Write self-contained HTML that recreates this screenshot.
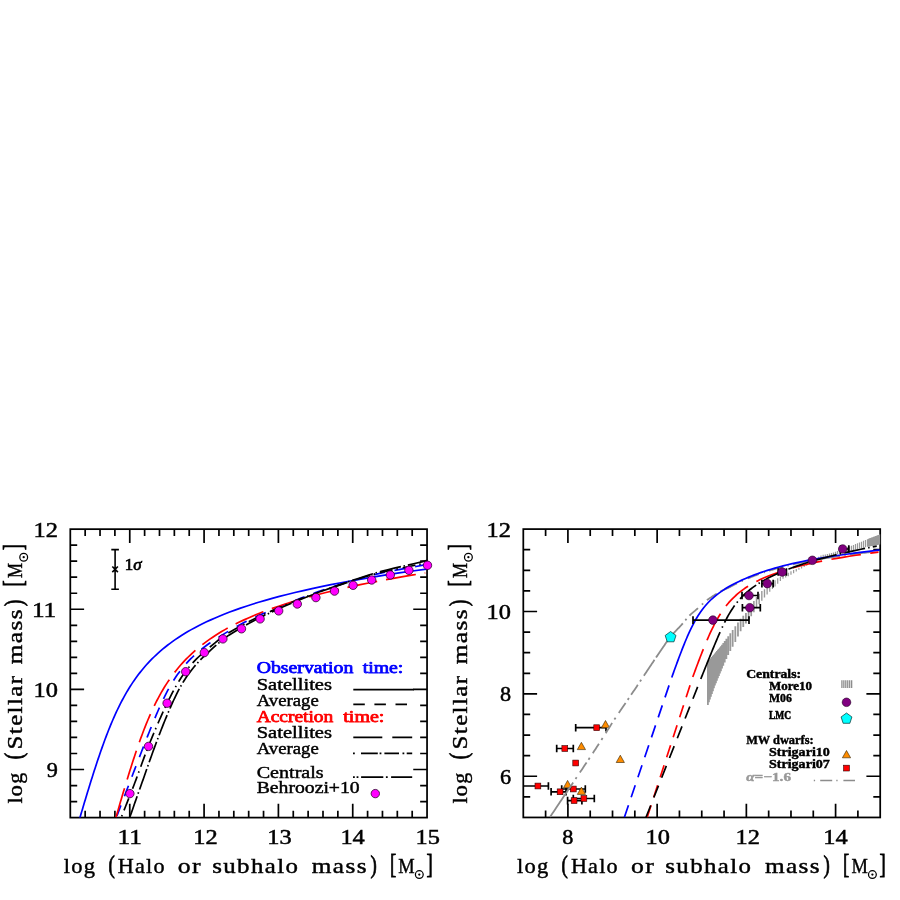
<!DOCTYPE html>
<html><head><meta charset="utf-8"><title>Stellar mass - halo mass relation</title>
<style>html,body{margin:0;padding:0;background:#fff}body{width:900px;height:900px;overflow:hidden}svg{display:block;will-change:transform}text{font-family:"Liberation Serif",serif}</style>
</head><body>
<svg width="900" height="900" viewBox="0 0 900 900">
<rect width="900" height="900" fill="#fff"/>
<g id="left">
<rect x="70.3" y="529.15" width="356.75" height="288.45" fill="none" stroke="#000" stroke-width="1.75"/>
<path d="M129.76 817.6v-13.8 M129.76 529.15v13.8M204.08 817.6v-13.8 M204.08 529.15v13.8M278.4 817.6v-13.8 M278.4 529.15v13.8M352.73 817.6v-13.8 M352.73 529.15v13.8M85.16 817.6v-6.9 M85.16 529.15v6.9M100.03 817.6v-6.9 M100.03 529.15v6.9M114.89 817.6v-6.9 M114.89 529.15v6.9M144.62 817.6v-6.9 M144.62 529.15v6.9M159.49 817.6v-6.9 M159.49 529.15v6.9M174.35 817.6v-6.9 M174.35 529.15v6.9M189.22 817.6v-6.9 M189.22 529.15v6.9M218.95 817.6v-6.9 M218.95 529.15v6.9M233.81 817.6v-6.9 M233.81 529.15v6.9M248.68 817.6v-6.9 M248.68 529.15v6.9M263.54 817.6v-6.9 M263.54 529.15v6.9M293.27 817.6v-6.9 M293.27 529.15v6.9M308.13 817.6v-6.9 M308.13 529.15v6.9M323 817.6v-6.9 M323 529.15v6.9M337.86 817.6v-6.9 M337.86 529.15v6.9M367.59 817.6v-6.9 M367.59 529.15v6.9M382.46 817.6v-6.9 M382.46 529.15v6.9M397.32 817.6v-6.9 M397.32 529.15v6.9M412.19 817.6v-6.9 M412.19 529.15v6.9M70.3 769.52h13.8 M427.05 769.52h-13.8M70.3 689.4h13.8 M427.05 689.4h-13.8M70.3 609.27h13.8 M427.05 609.27h-13.8M70.3 801.58h6.9 M427.05 801.58h-6.9M70.3 785.55h6.9 M427.05 785.55h-6.9M70.3 753.5h6.9 M427.05 753.5h-6.9M70.3 737.47h6.9 M427.05 737.47h-6.9M70.3 721.45h6.9 M427.05 721.45h-6.9M70.3 705.42h6.9 M427.05 705.42h-6.9M70.3 673.37h6.9 M427.05 673.37h-6.9M70.3 657.35h6.9 M427.05 657.35h-6.9M70.3 641.32h6.9 M427.05 641.32h-6.9M70.3 625.3h6.9 M427.05 625.3h-6.9M70.3 593.25h6.9 M427.05 593.25h-6.9M70.3 577.22h6.9 M427.05 577.22h-6.9M70.3 561.2h6.9 M427.05 561.2h-6.9M70.3 545.17h6.9 M427.05 545.17h-6.9" stroke="#000" stroke-width="1.7" fill="none"/>
<clipPath id="cl"><rect x="70.3" y="529.15" width="356.75" height="288.45"/></clipPath>
<g clip-path="url(#cl)" fill="none" stroke-width="1.7">
<path d="M79.49 819.2L80.06 817.25L80.64 815.29L81.21 813.34L81.79 811.38L82.37 809.43L82.95 807.47L83.53 805.52L84.11 803.57L84.7 801.61L85.29 799.66L85.87 797.7L86.47 795.75L87.06 793.79L87.65 791.84L88.25 789.89L88.85 787.93L89.45 785.98L90.06 784.02L90.67 782.07L91.28 780.11L91.89 778.16L92.51 776.21L93.13 774.25L93.76 772.3L94.39 770.34L95.02 768.39L95.65 766.43L96.3 764.48L96.94 762.53L97.59 760.57L98.25 758.62L98.91 756.66L99.58 754.71L100.25 752.75L100.93 750.8L101.62 748.85L102.31 746.89L103.01 744.94L103.72 742.98L104.44 741.03L105.16 739.07L105.89 737.12L106.64 735.17L107.39 733.21L108.16 731.26L108.93 729.3L109.72 727.35L110.51 725.39L111.33 723.44L112.15 721.49L112.99 719.53L113.84 717.58L114.71 715.62L115.6 713.67L116.5 711.71L117.42 709.76L118.36 707.81L119.32 705.85L120.3 703.9L121.3 701.94L122.32 699.99L123.37 698.03L124.45 696.08L125.55 694.13L126.68 692.17L127.84 690.22L129.03 688.26L130.26 686.31L131.52 684.35L132.81 682.4L134.15 680.45L135.52 678.49L136.94 676.54L138.4 674.58L139.9 672.63L141.46 670.67L143.07 668.72L144.73 666.77L146.45 664.81L148.22 662.86L150.06 660.9L151.97 658.95L153.95 656.99L156 655.04L158.12 653.09L160.33 651.13L162.62 649.18L165.01 647.22L167.48 645.27L170.05 643.31L172.73 641.36L175.52 639.41L178.42 637.45L181.44 635.5L184.59 633.54L187.87 631.59L191.29 629.63L194.86 627.68L198.58 625.73L202.46 623.77L206.52 621.82L210.75 619.86L215.18 617.91L219.8 615.95L224.63 614L229.68 612.05L234.96 610.09L240.48 608.14L246.26 606.18L252.3 604.23L258.63 602.27L265.25 600.32L272.18 598.37L279.44 596.41L287.04 594.46L295 592.5L303.35 590.55L312.09 588.59L321.25 586.64L330.85 584.69L340.92 582.73L351.47 580.78L362.54 578.82L374.14 576.87L386.31 574.91L399.08 572.96L412.47 571.01L426.52 569.05" stroke="#0000ff"/>
<path d="M115.66 819.2L116.4 817.25L117.15 815.29L117.9 813.34L118.64 811.38L119.39 809.43L120.13 807.47L120.88 805.52L121.63 803.57L122.37 801.61L123.12 799.66L123.86 797.7L124.61 795.75L125.36 793.79L126.1 791.84L126.85 789.89L127.6 787.93L128.35 785.98L129.09 784.02L129.84 782.07L130.59 780.11L131.34 778.16L132.08 776.21L132.83 774.25L133.58 772.3L134.33 770.34L135.08 768.39L135.83 766.43L136.58 764.48L137.33 762.53L138.09 760.57L138.84 758.62L139.59 756.66L140.35 754.71L141.11 752.75L141.86 750.8L142.62 748.85L143.38 746.89L144.14 744.94L144.91 742.98L145.67 741.03L146.44 739.07L147.21 737.12L147.98 735.17L148.76 733.21L149.54 731.26L150.32 729.3L151.11 727.35L151.9 725.39L152.7 723.44L153.5 721.49L154.31 719.53L155.13 717.58L155.95 715.62L156.79 713.67L157.63 711.71L158.48 709.76L159.35 707.81L160.22 705.85L161.11 703.9L162.02 701.94L162.94 699.99L163.89 698.03L164.85 696.08L165.84 694.13L166.84 692.17L167.88 690.22L168.95 688.26L170.04 686.31L171.18 684.35L172.34 682.4L173.55 680.45L174.81 678.49L176.11 676.54L177.46 674.58L178.87 672.63L180.34 670.67L181.86 668.72L183.46 666.77L185.13 664.81L186.87 662.86L188.7 660.9L190.6 658.95L192.6 656.99L194.69 655.04L196.88 653.09L199.17 651.13L201.56 649.18L204.06 647.22L206.68 645.27L209.41 643.31L212.26 641.36L215.22 639.41L218.31 637.43L221.53 635.42L224.87 633.38L228.34 631.31L231.93 629.22L235.66 627.11L239.51 624.99L243.49 622.87L247.59 620.76L251.83 618.68L256.19 616.63L260.68 614.65L265.3 612.66L270.04 610.62L274.9 608.54L279.9 606.47L285.01 604.42L290.26 602.43L295.62 600.36L301.12 598.15L306.74 595.86L312.5 593.6L318.38 591.47L324.39 589.5L330.54 587.53L336.83 585.54L343.26 583.55L349.83 581.56L356.54 579.57L363.41 577.59L370.44 575.62L377.62 573.81L384.98 572.21L392.5 570.76L400.19 569.38L408.07 568L416.14 566.52L424.41 564.83" stroke="#0000ff" stroke-dasharray="11.3 9.7" stroke-dashoffset="17.5"/>
<path d="M115.46 819.2L116.02 817.25L116.59 815.29L117.15 813.34L117.71 811.38L118.28 809.43L118.84 807.47L119.41 805.52L119.98 803.57L120.55 801.61L121.13 799.66L121.7 797.7L122.28 795.75L122.85 793.79L123.44 791.84L124.02 789.89L124.6 787.93L125.19 785.98L125.78 784.02L126.37 782.07L126.97 780.11L127.57 778.16L128.17 776.21L128.77 774.25L129.38 772.3L129.99 770.34L130.61 768.39L131.23 766.43L131.85 764.48L132.48 762.53L133.11 760.57L133.75 758.62L134.39 756.66L135.04 754.71L135.7 752.75L136.36 750.8L137.03 748.85L137.7 746.89L138.38 744.94L139.07 742.98L139.77 741.03L140.47 739.07L141.19 737.12L141.91 735.17L142.64 733.21L143.38 731.26L144.14 729.3L144.9 727.35L145.68 725.39L146.47 723.44L147.27 721.49L148.09 719.53L148.92 717.58L149.77 715.62L150.63 713.67L151.51 711.71L152.41 709.76L153.33 707.81L154.26 705.85L155.22 703.9L156.2 701.94L157.2 699.99L158.23 698.03L159.28 696.08L160.36 694.13L161.47 692.17L162.6 690.22L163.77 688.26L164.97 686.31L166.2 684.35L167.48 682.4L168.78 680.45L170.13 678.49L171.52 676.54L172.96 674.58L174.44 672.63L175.97 670.67L177.55 668.72L179.18 666.77L180.87 664.81L182.62 662.86L184.43 660.9L186.31 658.95L188.26 656.99L190.27 655.04L192.37 653.09L194.54 651.13L196.8 649.18L199.14 647.22L201.58 645.27L204.11 643.31L206.74 641.36L209.48 639.41L212.34 637.45L215.31 635.5L218.4 633.54L221.62 631.59L224.98 629.63L228.48 627.68L232.13 625.73L235.94 623.77L239.91 621.82L244.06 619.86L248.38 617.91L252.9 615.95L257.61 614L262.54 612.05L267.69 610.09L273.06 608.14L278.68 606.18L284.55 604.23L290.69 602.27L297.11 600.32L303.82 598.37L310.84 596.41L318.18 594.46L325.86 592.5L333.89 590.55L342.29 588.59L351.09 586.64L360.29 584.69L369.92 582.73L380 580.78L390.55 578.82L401.6 576.87L413.16 574.91L425.26 572.96" stroke="#ff0000" stroke-dasharray="30.3 9" stroke-dashoffset="37.3"/>
<path d="M120.53 819.2L121.3 817.25L122.08 815.29L122.85 813.34L123.62 811.38L124.39 809.43L125.16 807.47L125.93 805.52L126.7 803.57L127.47 801.61L128.25 799.66L129.02 797.7L129.79 795.75L130.56 793.79L131.33 791.84L132.11 789.89L132.87 787.93L133.63 785.98L134.37 784.02L135.11 782.07L135.84 780.11L136.56 778.16L137.28 776.21L137.99 774.25L138.71 772.3L139.41 770.34L140.12 768.39L140.83 766.43L141.54 764.48L142.25 762.53L142.97 760.57L143.69 758.62L144.41 756.66L145.14 754.71L145.88 752.75L146.63 750.8L147.39 748.85L148.17 746.89L148.95 744.94L149.74 742.98L150.53 741.03L151.33 739.07L152.14 737.12L152.95 735.17L153.77 733.21L154.59 731.26L155.42 729.3L156.25 727.35L157.09 725.39L157.93 723.44L158.78 721.49L159.64 719.53L160.51 717.58L161.38 715.62L162.26 713.67L163.15 711.71L164.04 709.76L164.95 707.81L165.87 705.85L166.79 703.9L167.74 701.94L168.69 699.99L169.66 698.03L170.65 696.08L171.66 694.13L172.68 692.17L173.73 690.22L174.8 688.26L175.9 686.31L177.03 684.35L178.2 682.4L179.39 680.45L180.64 678.49L181.94 676.54L183.3 674.58L184.72 672.63L186.19 670.67L187.73 668.72L189.34 666.77L191.02 664.81L192.76 662.86L194.59 660.9L196.49 658.95L198.48 656.99L200.57 655.04L202.75 653.09L205.04 651.13L207.45 649.12L209.96 647.02L212.59 644.83L215.33 642.57L218.2 640.28L221.18 637.98L224.29 635.72L227.53 633.55L230.89 631.54L234.37 629.55L237.98 627.53L241.71 625.47L245.56 623.39L249.53 621.3L253.62 619.22L257.82 617.15L262.14 615.12L266.56 613.15L271.1 611.15L275.74 609.11L280.48 607.04L285.33 604.97L290.27 602.9L295.32 600.86L300.47 598.87L305.71 596.92L311.06 594.96L316.5 593L322.04 591.03L327.68 589.07L333.42 587.1L339.27 585.14L345.22 583.17L351.28 581.2L357.46 579.24L363.74 577.28L370.15 575.32L376.68 573.48L383.34 571.83L390.13 570.32L397.05 568.89L404.12 567.49L411.33 566.04L418.69 564.47L426.22 562.69" stroke="#000" stroke-dasharray="13 3.95 1.5 4.9" stroke-dashoffset="13.9"/>
<path d="M129.08 819.2L129.79 817.25L130.49 815.29L131.19 813.34L131.88 811.38L132.56 809.43L133.24 807.47L133.92 805.52L134.59 803.57L135.27 801.61L135.95 799.66L136.63 797.7L137.31 795.75L138 793.79L138.7 791.84L139.4 789.89L140.11 787.93L140.81 785.98L141.51 784.02L142.2 782.07L142.9 780.11L143.59 778.16L144.27 776.21L144.96 774.25L145.65 772.3L146.33 770.34L147.02 768.39L147.7 766.43L148.39 764.48L149.08 762.53L149.77 760.57L150.46 758.62L151.15 756.66L151.85 754.71L152.56 752.75L153.26 750.8L153.98 748.85L154.69 746.89L155.42 744.94L156.15 742.98L156.88 741.03L157.62 739.07L158.36 737.12L159.11 735.17L159.86 733.21L160.62 731.26L161.38 729.3L162.15 727.35L162.92 725.39L163.7 723.44L164.49 721.49L165.28 719.53L166.08 717.58L166.89 715.62L167.71 713.67L168.54 711.71L169.37 709.76L170.22 707.81L171.08 705.85L171.96 703.9L172.85 701.94L173.75 699.99L174.68 698.03L175.62 696.08L176.58 694.13L177.57 692.17L178.58 690.22L179.62 688.26L180.7 686.31L181.82 684.35L182.98 682.4L184.2 680.45L185.46 678.49L186.77 676.54L188.13 674.58L189.56 672.63L191.04 670.67L192.58 668.72L194.19 666.77L195.87 664.81L197.62 662.86L199.45 660.9L201.35 658.95L203.34 656.99L205.43 655.04L207.61 653.02L209.89 650.9L212.28 648.71L214.77 646.44L217.37 644.14L220.09 641.81L222.91 639.51L225.85 637.27L228.9 635.16L232.07 633.19L235.35 631.2L238.74 629.18L242.25 627.14L245.87 625.08L249.61 623.01L253.45 620.95L257.39 618.9L261.45 616.88L265.6 614.91L269.86 612.92L274.22 610.9L278.67 608.84L283.22 606.77L287.87 604.7L292.61 602.65L297.44 600.64L302.36 598.67L307.37 596.71L312.47 594.75L317.67 592.78L322.95 590.81L328.33 588.83L333.81 586.85L339.37 584.88L345.04 582.9L350.81 580.92L356.68 578.95L362.65 576.98L368.74 575.02L374.93 573.12L381.24 571.37L387.67 569.73L394.23 568.18L400.91 566.66L407.73 565.13L414.68 563.54L421.78 561.83L429.02 559.93" stroke="#000" stroke-dasharray="21.7 2.7 1.5 2.95" stroke-dashoffset="26.2" stroke-width="1.7"/>
</g>
<g fill="#ff00ff" stroke="#300030" stroke-width="0.8">
<circle cx="129.9" cy="793.6" r="4.2"/>
<circle cx="148.5" cy="746.4" r="4.2"/>
<circle cx="167.1" cy="703.2" r="4.2"/>
<circle cx="185.7" cy="671.7" r="4.2"/>
<circle cx="204.3" cy="652.6" r="4.2"/>
<circle cx="222.9" cy="638.9" r="4.2"/>
<circle cx="241.5" cy="628.8" r="4.2"/>
<circle cx="260.1" cy="618.9" r="4.2"/>
<circle cx="278.7" cy="610.9" r="4.2"/>
<circle cx="297.3" cy="604" r="4.2"/>
<circle cx="315.9" cy="597.6" r="4.2"/>
<circle cx="334.5" cy="591.1" r="4.2"/>
<circle cx="353.1" cy="585.3" r="4.2"/>
<circle cx="371.7" cy="580" r="4.2"/>
<circle cx="390.3" cy="575" r="4.2"/>
<circle cx="408.9" cy="570.3" r="4.2"/>
<circle cx="427.5" cy="565.3" r="4.2"/>
<circle cx="375.3" cy="793.6" r="4.2"/>
</g>
<path d="M115.1 549.6V589.3M111.3 549.6h7.6M111.3 589.3h7.6M112.3 566.5l5.6 5.6M117.9 566.5l-5.6 5.6" stroke="#000" stroke-width="1.6" fill="none"/>
<text x="124.8" y="570.2" font-size="16.5" text-anchor="start" fill="#000" stroke="#000" stroke-width="0.7" font-weight="normal" textLength="16.8" lengthAdjust="spacingAndGlyphs" >1<tspan font-style="italic">σ</tspan></text>
<text x="129.8" y="844.2" font-size="21.6" text-anchor="middle" fill="#000" stroke="#000" stroke-width="0.5" font-weight="normal" textLength="24.4" lengthAdjust="spacingAndGlyphs" >11</text>
<text x="205.5" y="844.2" font-size="21.6" text-anchor="middle" fill="#000" stroke="#000" stroke-width="0.5" font-weight="normal" textLength="24.4" lengthAdjust="spacingAndGlyphs" >12</text>
<text x="279.4" y="844.2" font-size="21.6" text-anchor="middle" fill="#000" stroke="#000" stroke-width="0.5" font-weight="normal" textLength="24.4" lengthAdjust="spacingAndGlyphs" >13</text>
<text x="352.6" y="844.2" font-size="21.6" text-anchor="middle" fill="#000" stroke="#000" stroke-width="0.5" font-weight="normal" textLength="24.4" lengthAdjust="spacingAndGlyphs" >14</text>
<text x="427.7" y="844.2" font-size="21.6" text-anchor="middle" fill="#000" stroke="#000" stroke-width="0.5" font-weight="normal" textLength="24.4" lengthAdjust="spacingAndGlyphs" >15</text>
<text x="57.9" y="776.92" font-size="21.6" text-anchor="end" fill="#000" stroke="#000" stroke-width="0.5" font-weight="normal" textLength="11.1" lengthAdjust="spacingAndGlyphs" >9</text>
<text x="57.9" y="696.8" font-size="21.6" text-anchor="end" fill="#000" stroke="#000" stroke-width="0.5" font-weight="normal" textLength="24.4" lengthAdjust="spacingAndGlyphs" >10</text>
<text x="56.3" y="616.67" font-size="21.6" text-anchor="end" fill="#000" stroke="#000" stroke-width="0.5" font-weight="normal" textLength="24.4" lengthAdjust="spacingAndGlyphs" >11</text>
<text x="57.9" y="536.55" font-size="21.6" text-anchor="end" fill="#000" stroke="#000" stroke-width="0.5" font-weight="normal" textLength="24.4" lengthAdjust="spacingAndGlyphs" >12</text>
<text x="63.8" y="872.7" font-size="21.5" text-anchor="start" fill="#000" stroke="#000" stroke-width="0.42" font-weight="normal" textLength="32.5" lengthAdjust="spacingAndGlyphs" letter-spacing="1.2">log</text>
<text x="108.4" y="872.7" font-size="25.3" text-anchor="start" fill="#000" stroke="#000" stroke-width="0.8" font-weight="normal" textLength="6.3" lengthAdjust="spacingAndGlyphs" >(</text>
<text x="117.8" y="872.7" font-size="21.5" text-anchor="start" fill="#000" stroke="#000" stroke-width="0.42" font-weight="normal" textLength="48" lengthAdjust="spacingAndGlyphs" letter-spacing="1.2">Halo</text>
<text x="177.8" y="872.7" font-size="21.5" text-anchor="start" fill="#000" stroke="#000" stroke-width="0.42" font-weight="normal" textLength="24.3" lengthAdjust="spacingAndGlyphs" letter-spacing="1.2">or</text>
<text x="212.2" y="872.7" font-size="21.5" text-anchor="start" fill="#000" stroke="#000" stroke-width="0.42" font-weight="normal" textLength="87.1" lengthAdjust="spacingAndGlyphs" letter-spacing="1.2">subhalo</text>
<text x="311.8" y="872.7" font-size="21.5" text-anchor="start" fill="#000" stroke="#000" stroke-width="0.42" font-weight="normal" textLength="56.2" lengthAdjust="spacingAndGlyphs" letter-spacing="1.2">mass</text>
<text x="370.5" y="872.7" font-size="25.3" text-anchor="start" fill="#000" stroke="#000" stroke-width="0.8" font-weight="normal" textLength="6.3" lengthAdjust="spacingAndGlyphs" >)</text>
<text x="390" y="872.7" font-size="26.5" text-anchor="start" fill="#000" stroke="#000" stroke-width="0.8" font-weight="normal" textLength="6.2" lengthAdjust="spacingAndGlyphs" >[</text>
<text x="398.3" y="872.7" font-size="21.5" text-anchor="start" fill="#000" stroke="#000" stroke-width="0.42" font-weight="normal" textLength="16.4" lengthAdjust="spacingAndGlyphs" >M</text>
<circle cx="419.3" cy="874.6" r="3.9" fill="none" stroke="#000" stroke-width="1.25"/><circle cx="419.3" cy="874.6" r="1.15" fill="#000"/>
<text x="426.5" y="872.7" font-size="26.5" text-anchor="start" fill="#000" stroke="#000" stroke-width="0.8" font-weight="normal" textLength="6.2" lengthAdjust="spacingAndGlyphs" >]</text>
<g transform="translate(22.4 803.5) rotate(-90)">
<text x="0" y="0" font-size="21.5" text-anchor="start" fill="#000" stroke="#000" stroke-width="0.42" font-weight="normal" textLength="31.9" lengthAdjust="spacingAndGlyphs" letter-spacing="1.2">log</text>
<text x="44.3" y="0" font-size="25.3" text-anchor="start" fill="#000" stroke="#000" stroke-width="0.8" font-weight="normal" textLength="6.3" lengthAdjust="spacingAndGlyphs" >(</text>
<text x="54" y="0" font-size="21.5" text-anchor="start" fill="#000" stroke="#000" stroke-width="0.42" font-weight="normal" textLength="75" lengthAdjust="spacingAndGlyphs" letter-spacing="1.2">Stellar</text>
<text x="139.3" y="0" font-size="21.5" text-anchor="start" fill="#000" stroke="#000" stroke-width="0.42" font-weight="normal" textLength="56.2" lengthAdjust="spacingAndGlyphs" letter-spacing="1.2">mass</text>
<text x="197.6" y="0" font-size="25.3" text-anchor="start" fill="#000" stroke="#000" stroke-width="0.8" font-weight="normal" textLength="6.3" lengthAdjust="spacingAndGlyphs" >)</text>
<text x="216.9" y="0" font-size="26.5" text-anchor="start" fill="#000" stroke="#000" stroke-width="0.8" font-weight="normal" textLength="6.2" lengthAdjust="spacingAndGlyphs" >[</text>
<text x="225.4" y="0" font-size="21.5" text-anchor="start" fill="#000" stroke="#000" stroke-width="0.42" font-weight="normal" textLength="15" lengthAdjust="spacingAndGlyphs" >M</text>
<circle cx="246.3" cy="1.3" r="3.9" fill="none" stroke="#000" stroke-width="1.25"/><circle cx="246.3" cy="1.3" r="1.15" fill="#000"/>
<text x="253.3" y="0" font-size="26.5" text-anchor="start" fill="#000" stroke="#000" stroke-width="0.8" font-weight="normal" textLength="6.2" lengthAdjust="spacingAndGlyphs" >]</text>
</g>
<text x="256.7" y="673.3" font-size="15.8" text-anchor="start" fill="#0000ff" stroke="#0000ff" stroke-width="0.75" font-weight="normal" textLength="96.6" lengthAdjust="spacingAndGlyphs" >Observation</text>
<text x="362.7" y="673.3" font-size="15.8" text-anchor="start" fill="#0000ff" stroke="#0000ff" stroke-width="0.75" font-weight="normal" textLength="40.6" lengthAdjust="spacingAndGlyphs" >time:</text>
<text x="256.7" y="690" font-size="15.8" text-anchor="start" fill="#000" stroke="#000" stroke-width="0.42" font-weight="normal" textLength="75.3" lengthAdjust="spacingAndGlyphs" >Satellites</text>
<text x="256.7" y="705.6" font-size="15.8" text-anchor="start" fill="#000" stroke="#000" stroke-width="0.42" font-weight="normal" textLength="62" lengthAdjust="spacingAndGlyphs" >Average</text>
<text x="256.7" y="722.2" font-size="15.8" text-anchor="start" fill="#ff0000" stroke="#ff0000" stroke-width="0.75" font-weight="normal" textLength="76.6" lengthAdjust="spacingAndGlyphs" >Accretion</text>
<text x="343.3" y="722.2" font-size="15.8" text-anchor="start" fill="#ff0000" stroke="#ff0000" stroke-width="0.75" font-weight="normal" textLength="41.1" lengthAdjust="spacingAndGlyphs" >time:</text>
<text x="256.7" y="737.8" font-size="15.8" text-anchor="start" fill="#000" stroke="#000" stroke-width="0.42" font-weight="normal" textLength="75.3" lengthAdjust="spacingAndGlyphs" >Satellites</text>
<text x="256.7" y="753.8" font-size="15.8" text-anchor="start" fill="#000" stroke="#000" stroke-width="0.42" font-weight="normal" textLength="62" lengthAdjust="spacingAndGlyphs" >Average</text>
<text x="256.7" y="777.8" font-size="15.8" text-anchor="start" fill="#000" stroke="#000" stroke-width="0.42" font-weight="normal" textLength="67" lengthAdjust="spacingAndGlyphs" >Centrals</text>
<text x="256.7" y="793.3" font-size="15.8" text-anchor="start" fill="#000" stroke="#000" stroke-width="0.42" font-weight="normal" textLength="103" lengthAdjust="spacingAndGlyphs" >Behroozi+10</text>
<g stroke="#000" stroke-width="1.7" fill="none">
<path d="M353.3 689.6H414"/>
<path d="M353.3 704.4H412.2" stroke-dasharray="11.5 9.6"/>
<path d="M353.3 737.3H412.2" stroke-dasharray="29 10"/>
<path d="M353 753.3h1.8M361 753.3H377.8M379.6 753.3h1.8M384.4 753.3H399M402.5 753.3h1.8M406.7 753.3H412.2"/>
<path d="M353 777.1h1.8M356.6 777.1h1.8M361.1 777.1H383.3M385.9 777.1h1.8M391.1 777.1H412.2"/>
</g>
</g>
<g id="right">
<clipPath id="cr"><rect x="523.3" y="529.1" width="356.9" height="288.35"/></clipPath>
<rect x="523.3" y="529.1" width="356.9" height="288.35" fill="none" stroke="#000" stroke-width="1.75"/>
<path d="M567.91 817.45v-13.8 M567.91 529.1v13.8M657.14 817.45v-13.8 M657.14 529.1v13.8M746.36 817.45v-13.8 M746.36 529.1v13.8M835.59 817.45v-13.8 M835.59 529.1v13.8M545.61 817.45v-6.9 M545.61 529.1v6.9M590.22 817.45v-6.9 M590.22 529.1v6.9M612.52 817.45v-6.9 M612.52 529.1v6.9M634.83 817.45v-6.9 M634.83 529.1v6.9M679.44 817.45v-6.9 M679.44 529.1v6.9M701.75 817.45v-6.9 M701.75 529.1v6.9M724.06 817.45v-6.9 M724.06 529.1v6.9M768.67 817.45v-6.9 M768.67 529.1v6.9M790.98 817.45v-6.9 M790.98 529.1v6.9M813.28 817.45v-6.9 M813.28 529.1v6.9M857.89 817.45v-6.9 M857.89 529.1v6.9M523.3 776.26h13.8 M880.2 776.26h-13.8M523.3 693.87h13.8 M880.2 693.87h-13.8M523.3 611.49h13.8 M880.2 611.49h-13.8M523.3 796.85h6.9 M880.2 796.85h-6.9M523.3 755.66h6.9 M880.2 755.66h-6.9M523.3 735.06h6.9 M880.2 735.06h-6.9M523.3 714.47h6.9 M880.2 714.47h-6.9M523.3 673.28h6.9 M880.2 673.28h-6.9M523.3 652.68h6.9 M880.2 652.68h-6.9M523.3 632.08h6.9 M880.2 632.08h-6.9M523.3 590.89h6.9 M880.2 590.89h-6.9M523.3 570.29h6.9 M880.2 570.29h-6.9M523.3 549.7h6.9 M880.2 549.7h-6.9" stroke="#000" stroke-width="1.7" fill="none"/>
<g clip-path="url(#cr)" stroke="#999" fill="none">
<path d="M769.77 585.33V591.73M772.42 582.84V589.08M775.07 580.34V586.43M777.72 578.36V583.71M780.37 576.99V580.9M783.02 575.58V578.83M785.67 574.14V577.49M788.32 572.7V576.16M790.97 571.26V574.82M793.62 570.05V573.22M796.27 568.99V571.45M798.92 567.82V569.82M801.57 566.42V568.42M804.19 565.05V567.05M806.75 563.71V565.71M809.25 562.39V564.39M811.7 560.98V563.03M814.1 559.55V561.65M816.44 558.15V560.31M818.74 556.77V559M820.98 555.43V557.71M823.18 554.76V557.01M825.32 554.41V556.59M827.43 554.06V556.17M829.48 553.57V555.93M831.49 553.06V555.72M833.49 552.55V555.52M835.49 551.79V554.93M837.49 551V554.3M839.49 550.2V553.66M841.49 549.44V553.11M843.49 548.69V552.59M845.49 547.95V552.06M847.49 547.2V551.54M849.49 546.45V551.02M851.49 545.68V550.51M853.49 544.89V550.04M855.49 544.09V549.57M857.49 543.3V549.09M859.49 542.5V548.62M861.49 541.67V548.17M863.49 540.82V547.74M865.49 539.98V547.3M867.49 539.13V546.87M868.49 538.74V546.67M869.49 538.36V546.48M870.49 537.99V546.28M871.49 537.61V546.09M872.49 537.24V545.9M873.49 536.86V545.71M874.49 536.48V545.52M875.49 536.11V545.32M876.49 535.73V545.13M877.49 535.36V544.94M878.49 534.98V544.75M879.49 534.6V544.56M880.49 534.3V544.4" stroke-width="1.2"/>
<path d="M767.12 587.56V594.52" stroke-width="1.3"/>
<path d="M761.82 590.97V600.72M764.47 589.27V597.62" stroke-width="1.4"/>
<path d="M756.52 597.1V608.2M759.17 593.78V604.2" stroke-width="1.5"/>
<path d="M753.87 600.93V612.18" stroke-width="1.6"/>
<path d="M748.57 610.03V620.09M751.22 605.48V616.14" stroke-width="1.7"/>
<path d="M707.9 661.97V705.03M708.9 660.75V702.25M709.9 659.53V699.47M710.9 658.31V696.69M711.9 657.08V693.92M712.9 655.86V691.14M713.9 654.64V688.36M714.9 653.42V685.58M715.9 652.23V683.15M716.9 651.03V680.76M717.9 649.84V678.37M718.9 648.64V675.99M719.9 647.45V673.6M720.9 646.26V671.21M722.02 644.85V668.59M723.29 643.06V665.78M724.73 641.03V662.6M726.36 638.74V659M728.21 636.13V654.91M730.3 633.22V651.12M732.67 629.93V646.87M735.32 626.25V642.04M737.97 622.53V636.62M740.62 618.81V631.2M743.27 615.68V626.97M745.92 612.95V623.56" stroke-width="1.8"/>
</g>
<path d="M575.7 727.7H606M575.7 723.9v7.6M606 723.9v7.6M556.7 748.5H573.3M556.7 744.7v7.6M573.3 744.7v7.6M523.3 786H548.4M548.4 782.2v7.6M551.1 791.8H566M551.1 788v7.6M566 788v7.6M561.7 789H585.3M561.7 785.2v7.6M585.3 785.2v7.6M567.6 800.6H581.9M567.6 796.8v7.6M581.9 796.8v7.6M573.3 798.5H594.3M573.3 794.7v7.6M594.3 794.7v7.6" stroke="#000" stroke-width="1.7" fill="none"/>
<g fill="#ff0000" stroke="#300000" stroke-width="0.6">
<rect x="593.8" y="724.8" width="5.8" height="5.8"/>
<rect x="561.9" y="745.6" width="5.8" height="5.8"/>
<rect x="572.8" y="760.1" width="5.8" height="5.8"/>
<rect x="535" y="783.1" width="5.8" height="5.8"/>
<rect x="557.2" y="788.9" width="5.8" height="5.8"/>
<rect x="570.4" y="786.1" width="5.8" height="5.8"/>
<rect x="571.2" y="797.7" width="5.8" height="5.8"/>
<rect x="581" y="795.6" width="5.8" height="5.8"/>
<rect x="843.6" y="765.2" width="5.8" height="5.8"/>
</g>
<g fill="#ff8c00" stroke="#302000" stroke-width="0.6">
<path d="M605.5 720.5L609.6 727.8L601.4 727.8Z"/>
<path d="M581.4 742.3L585.5 749.6L577.3 749.6Z"/>
<path d="M620.3 755.2L624.4 762.5L616.2 762.5Z"/>
<path d="M567.6 780.4L571.7 787.7L563.5 787.7Z"/>
<path d="M581.4 787.1L585.5 794.4L577.3 794.4Z"/>
<path d="M846.5 750.5L850.6 757.8L842.4 757.8Z"/>
</g>
<g clip-path="url(#cr)" fill="none" stroke-width="1.7">
<path d="M550 817L550.7 815.96L551.54 814.7L552.51 813.26L553.59 811.65L554.77 809.89L556.04 808.01L557.37 806.03L558.75 803.96L560.17 801.84L561.62 799.68L563.08 797.51L564.53 795.35L565.96 793.21L567.36 791.13L568.71 789.12L570 787.2L571.26 785.32L572.55 783.4L573.86 781.45L575.19 779.48L576.52 777.5L577.85 775.52L579.18 773.55L580.5 771.59L581.8 769.65L583.09 767.74L584.34 765.87L585.56 764.05L586.75 762.28L587.88 760.58L588.97 758.95L590 757.4L590.97 755.94L591.88 754.56L592.74 753.27L593.55 752.03L594.32 750.86L595.06 749.73L595.77 748.64L596.46 747.58L597.13 746.54L597.8 745.51L598.47 744.48L599.14 743.44L599.82 742.38L600.52 741.29L601.25 740.17L602 739L602.76 737.81L603.51 736.64L604.25 735.47L604.99 734.31L605.72 733.15L606.45 731.98L607.19 730.81L607.94 729.62L608.7 728.41L609.47 727.19L610.27 725.93L611.09 724.64L611.94 723.32L612.83 721.96L613.74 720.56L614.7 719.1L615.7 717.59L616.75 716.02L617.83 714.4L618.95 712.74L620.1 711.04L621.28 709.31L622.47 707.55L623.68 705.78L624.9 703.99L626.12 702.19L627.35 700.39L628.57 698.6L629.78 696.82L630.97 695.05L632.15 693.31L633.3 691.6L634.45 689.89L635.61 688.15L636.79 686.39L637.97 684.61L639.16 682.83L640.35 681.05L641.53 679.28L642.69 677.52L643.85 675.78L644.98 674.08L646.09 672.41L647.17 670.79L648.21 669.22L649.22 667.71L650.18 666.27L651.1 664.9L651.97 663.61L652.79 662.38L653.57 661.22L654.32 660.11L655.03 659.05L655.71 658.04L656.37 657.06L657.01 656.12L657.63 655.2L658.23 654.31L658.83 653.44L659.42 652.57L660.01 651.71L660.6 650.85L661.19 649.98L661.8 649.1L662.4 648.22L662.99 647.36L663.56 646.52L664.11 645.7L664.66 644.89L665.19 644.09L665.73 643.3L666.26 642.52L666.79 641.76L667.32 641L667.85 640.24L668.4 639.49L668.95 638.74L669.52 638L670.1 637.25L670.7 636.5L671.32 635.75L671.96 635L672.62 634.26L673.29 633.52L673.97 632.78L674.66 632.04L675.36 631.32L676.06 630.59L676.75 629.88L677.44 629.17L678.12 628.47L678.79 627.77L679.45 627.09L680.09 626.42L680.71 625.75L681.3 625.1L681.87 624.46L682.42 623.83L682.95 623.2L683.46 622.59L683.96 621.99L684.45 621.39L684.93 620.81L685.41 620.23L685.88 619.65L686.35 619.09L686.82 618.52L687.3 617.97L687.78 617.42L688.27 616.88L688.78 616.34L689.3 615.8L689.84 615.26L690.4 614.73L690.98 614.19L691.56 613.66L692.16 613.13L692.76 612.61L693.37 612.09L693.97 611.58L694.56 611.08L695.15 610.6L695.71 610.12L696.26 609.66L696.79 609.22L697.29 608.79L697.76 608.39L698.2 608L698.6 607.64L698.97 607.3L699.32 606.98L699.64 606.69L699.93 606.41L700.21 606.14L700.48 605.89L700.73 605.65L700.98 605.42L701.21 605.19L701.45 604.96L701.69 604.74L701.93 604.51L702.17 604.28L702.43 604.04L702.7 603.8L702.97 603.56L703.22 603.32L703.45 603.1L703.68 602.88L703.9 602.67L704.12 602.46L704.34 602.25L704.57 602.04L704.81 601.82L705.06 601.6L705.33 601.37L705.62 601.12L705.94 600.87L706.29 600.6L706.68 600.31L707.1 600L707.57 599.67L708.1 599.3L708.67 598.91L709.28 598.5L709.91 598.08L710.58 597.64L711.26 597.2L711.94 596.75L712.63 596.3L713.32 595.87L713.99 595.44L714.64 595.02L715.26 594.63L715.85 594.26L716.4 593.91L716.9 593.6L717.35 593.32L717.77 593.06L718.15 592.83L718.5 592.61L718.84 592.42L719.15 592.23L719.45 592.06L719.73 591.9L720.01 591.74L720.3 591.58L720.58 591.43L720.87 591.28L721.17 591.12L721.49 590.96L721.83 590.78L722.2 590.6L722.59 590.41L722.99 590.21L723.41 590.02L723.83 589.83L724.27 589.63L724.71 589.43L725.16 589.24L725.61 589.04L726.06 588.84L726.51 588.65L726.96 588.45L727.4 588.25L727.83 588.06L728.26 587.86L728.67 587.67L729.07 587.47L729.46 587.28L729.83 587.09L730.2 586.9L730.56 586.7L730.91 586.51L731.26 586.32L731.6 586.13L731.94 585.94L732.29 585.75L732.63 585.56L732.97 585.37L733.32 585.18L733.67 584.99L734.03 584.8L734.4 584.6L734.78 584.41L735.16 584.21L735.55 584.02L735.93 583.83L736.33 583.63L736.72 583.44L737.12 583.24L737.52 583.05L737.93 582.85L738.34 582.65L738.75 582.46L739.17 582.26L739.58 582.06L740.01 581.86L740.44 581.67L740.87 581.47L741.3 581.27L741.74 581.07L742.19 580.87L742.63 580.67L743.08 580.47L743.54 580.27L743.99 580.06L744.46 579.86L744.92 579.66L745.39 579.46L745.86 579.25L746.34 579.05L746.82 578.85L747.31 578.64L747.8 578.44L748.3 578.23L748.8 578.03L749.31 577.82L749.82 577.61L750.33 577.41L750.85 577.2L751.37 576.99L751.89 576.78L752.43 576.57L752.96 576.37L753.5 576.16L754.05 575.95L754.6 575.74L755.15 575.53L755.71 575.32L756.28 575.1L756.85 574.89L757.43 574.68L758.01 574.47L758.6 574.26L759.19 574.05L759.79 573.83L760.39 573.62L761 573.41L761.61 573.19L762.23 572.98L762.85 572.77L763.48 572.55L764.11 572.34L764.76 572.12L765.4 571.91L766.06 571.7L766.72 571.48L767.39 571.27L768.06 571.05L768.74 570.84L769.42 570.63L770.11 570.41L770.81 570.2L771.51 569.98L772.22 569.77L772.93 569.56L773.65 569.34L774.38 569.13L775.11 568.92L775.85 568.7L776.6 568.49L777.36 568.28L778.12 568.07L778.89 567.86L779.67 567.65L780.46 567.43L781.25 567.22L782.05 567.02L782.85 566.81L783.67 566.6L784.48 566.39L785.31 566.18L786.15 565.97L786.99 565.76L787.84 565.56L788.7 565.35L789.56 565.14L790.44 564.94L791.33 564.73L792.22 564.53L793.12 564.32L794.03 564.12L794.95 563.92L795.88 563.72L796.81 563.51L797.75 563.31L798.7 563.11L799.66 562.91L800.63 562.71L801.6 562.51L802.59 562.31L803.58 562.11L804.59 561.92L805.61 561.72L806.63 561.52L807.67 561.32L808.72 561.12L809.77 560.93L810.84 560.73L811.91 560.54L812.99 560.34L814.09 560.14L815.19 559.95L816.3 559.75L817.42 559.56L818.56 559.37L819.7 559.17L820.86 558.98L822.03 558.78L823.21 558.59L824.4 558.4L825.6 558.2L826.82 558.01L828.05 557.82L829.28 557.62L830.53 557.43L831.79 557.24L833.05 557.04L834.33 556.85L835.63 556.66L836.93 556.47L838.25 556.27L839.58 556.08L840.92 555.89L842.28 555.7L843.65 555.5L845.03 555.31L846.43 555.12L847.9 554.92L849.46 554.71L851.11 554.5L852.82 554.28L854.56 554.05L856.33 553.83L858.1 553.61L859.84 553.39L861.55 553.17L863.19 552.97L864.75 552.78L866.22 552.59L867.56 552.43L868.76 552.28L869.79 552.15L870.65 552.04" stroke="#8c8c8c" stroke-width="1.8" stroke-dasharray="41.45 4.3 2.15 5.73 12.02 3.42 2.17 5.62 11.17 4.61 2.22 5.79 12.14 4.03 2.17 5.75 12.1 3.73 2.13 3.92 12.03 3.97 2.17 4.88 19.08 2.69 22.13 7.12 14.34 3.92 1.88 4.32 11.43 5.34 1.63 5.03 11.84 4.3 18.42 5.08 1.32 5.44 11.9 5.19 1.27 4.2 14.56 4.54 1.23 4.52 17.35 4.47 1.22 4.46 20.24 4.44 1.21 4.44 20.81 9999"/>
<path d="M671.75 677.45L672.11 676.43L672.48 675.41L672.84 674.39L673.21 673.37L673.58 672.35L673.94 671.33L674.31 670.31L674.68 669.29L675.05 668.27L675.42 667.24L675.79 666.22L676.17 665.2L676.54 664.18L676.91 663.16L677.29 662.14L677.67 661.13L678.04 660.11L678.42 659.09L678.8 658.07L679.19 657.05L679.57 656.03L679.95 655.01L680.34 653.99L680.73 652.97L681.12 651.96L681.51 650.94L681.91 649.92L682.3 648.9L682.7 647.88L683.1 646.87L683.51 645.85L683.92 644.83L684.33 643.82L684.74 642.8L685.16 641.78L685.58 640.77L686 639.75L686.43 638.74L686.87 637.72L687.31 636.71L687.75 635.69L688.2 634.68L688.65 633.66L689.11 632.65L689.57 631.64L690.05 630.62L690.52 629.61L691.01 628.6L691.5 627.59L692.01 626.58L692.52 625.56L693.04 624.55L693.57 623.54L694.11 622.53L694.66 621.53L695.22 620.52L695.79 619.51L696.38 618.5L696.98 617.5L697.59 616.49L698.22 615.48L698.87 614.48L699.53 613.48L700.21 612.47L700.91 611.47L701.63 610.47L702.37 609.47L703.14 608.47L703.92 607.47L704.73 606.47L705.57 605.48L706.44 604.48L707.33 603.49L708.26 602.49L709.22 601.5L710.21 600.5L711.24 599.51L712.31 598.52L713.42 597.53L714.57 596.54L715.77 595.55L717.02 594.56L718.32 593.57L719.67 592.57L721.07 591.58L722.54 590.59L724.07 589.59L725.67 588.59L727.33 587.58L729.07 586.57L730.89 585.56L732.79 584.54L734.78 583.51L736.85 582.47L739.03 581.42L741.3 580.37L743.69 579.3L746.18 578.22L748.8 577.13L751.54 576.02L754.42 574.91L757.43 573.78L760.59 572.65L763.91 571.51L767.39 570.37L771.04 569.23L774.87 568.09L778.89 566.96L783.12 565.83L787.56 564.72L792.22 563.63L797.12 562.55L802.26 561.48L807.67 560.42L813.35 559.38L819.33 558.34L825.6 557.3L832.2 556.27L839.14 555.25L846.43 554.22L854.1 553.19L862.17 552.17L870.65 551.14L879.56 550.12" stroke="#0000ff"/>
<path d="M624.4 817.3L671.75 677.45" stroke="#0000ff" stroke-dasharray="12.66 8.44"/>
<path d="M692.65 677.3L693.03 676.27L693.41 675.25L693.78 674.22L694.16 673.2L694.54 672.17L694.92 671.15L695.3 670.12L695.68 669.09L696.06 668.07L696.45 667.04L696.83 666.02L697.21 664.99L697.6 663.97L697.99 662.94L698.37 661.91L698.76 660.89L699.15 659.86L699.55 658.84L699.94 657.81L700.33 656.79L700.73 655.76L701.13 654.74L701.53 653.71L701.93 652.68L702.33 651.66L702.74 650.63L703.15 649.61L703.56 648.58L703.97 647.56L704.39 646.53L704.81 645.5L705.23 644.48L705.65 643.45L706.08 642.43L706.51 641.4L706.95 640.38L707.39 639.35L707.83 638.32L708.28 637.3L708.73 636.27L709.18 635.25L709.65 634.22L710.11 633.2L710.59 632.17L711.06 631.14L711.55 630.12L712.04 629.09L712.54 628.07L713.05 627.04L713.56 626.02L714.08 624.99L714.61 623.96L715.15 622.94L715.7 621.91L716.26 620.89L716.84 619.86L717.42 618.84L718.01 617.81L718.62 616.78L719.24 615.76L719.88 614.73L720.53 613.71L721.2 612.68L721.88 611.66L722.58 610.63L723.3 609.61L724.04 608.58L724.8 607.55L725.59 606.53L726.39 605.5L727.22 604.48L728.08 603.45L728.96 602.43L729.88 601.4L730.82 600.37L731.8 599.35L732.81 598.32L733.86 597.3L734.94 596.27L736.07 595.25L737.24 594.22L738.45 593.19L739.71 592.17L741.02 591.14L742.39 590.12L743.81 589.09L745.28 588.07L746.83 587.04L748.43 586.01L750.11 584.99L751.86 583.96L753.69 582.94L755.59 581.91L757.59 580.89L759.68 579.86L761.86 578.83L764.15 577.81L766.54 576.78L769.04 575.76L771.67 574.73L774.42 573.71L777.31 572.68L780.34 571.66L783.51 570.63L786.85 569.6L790.35 568.58L794.02 567.55L797.89 566.53L801.94 565.5L806.21 564.48L810.69 563.45L815.4 562.42L820.36 561.4L825.57 560.37L831.06 559.35L836.83 558.32L842.9 557.3L849.3 556.27L856.03 555.24L863.12 554.22L870.58 553.19L878.45 552.17" stroke="#ff0000" stroke-dasharray="29.8 9.5" stroke-dashoffset="38.9"/>
<path d="M647.2 817.3L692.65 677.3" stroke="#ff0000" stroke-dasharray="12.62 8.41"/>
<path d="M700.77 679L701.19 677.96L701.6 676.92L702.02 675.89L702.44 674.85L702.85 673.81L703.27 672.77L703.69 671.74L704.1 670.7L704.52 669.66L704.94 668.62L705.35 667.58L705.77 666.55L706.19 665.51L706.61 664.47L707.03 663.43L707.44 662.39L707.86 661.36L708.28 660.32L708.7 659.28L709.12 658.24L709.54 657.21L709.96 656.17L710.39 655.13L710.81 654.09L711.23 653.05L711.66 652.02L712.08 650.98L712.51 649.94L712.93 648.9L713.36 647.87L713.79 646.83L714.22 645.79L714.65 644.75L715.09 643.71L715.52 642.68L715.96 641.64L716.4 640.6L716.84 639.56L717.28 638.52L717.72 637.49L718.17 636.45L718.62 635.41L719.07 634.37L719.53 633.34L719.99 632.3L720.46 631.26L720.93 630.22L721.4 629.18L721.88 628.15L722.36 627.11L722.85 626.07L723.34 625.03L723.85 624L724.36 622.96L724.87 621.92L725.4 620.88L725.93 619.84L726.48 618.81L727.03 617.77L727.59 616.73L728.17 615.69L728.76 614.66L729.36 613.62L729.98 612.58L730.62 611.54L731.27 610.5L731.93 609.47L732.62 608.43L733.32 607.39L734.05 606.35L734.8 605.31L735.58 604.28L736.37 603.24L737.2 602.2L738.05 601.16L738.94 600.13L739.85 599.09L740.8 598.05L741.79 597.01L742.81 595.97L743.87 594.94L744.97 593.9L746.11 592.86L747.29 591.82L748.52 590.79L749.8 589.75L751.13 588.71L752.52 587.67L753.95 586.63L755.45 585.6L757 584.56L758.61 583.52L760.28 582.48L762.02 581.44L763.83 580.41L765.7 579.37L767.65 578.33L769.67 577.29L771.77 576.26L773.94 575.22L776.19 574.18L778.53 573.14L780.95 572.1L783.45 571.07L786.05 570.03L788.74 568.99L791.52 567.95L794.4 566.92L797.37 565.88L800.45 564.84L803.63 563.8L806.92 562.76L810.32 561.73L813.83 560.69L817.46 559.65L821.21 558.61L825.07 557.57L829.07 556.54L833.19 555.5L837.44 554.46L841.83 553.42L846.36 552.39L851.04 551.35L855.86 550.31L860.84 549.27L865.97 548.23L871.26 547.2L876.72 546.16" stroke="#000" stroke-dasharray="50.8 4.75 1.5 4.15 19.9 3.55 1.5 3.55 21.2 2.85 1.5 2.7 21.2 3.2 1.5 3.2 21.2 3.2 1.5 3.2 21.2 3.2 1.5 3.2 21.2 3.2 1.5 3.2 21.2 3.2 1.5 3.2 21.2 3.2 1.5 3.2 21.2 3.2 1.5 3.2 21.2 3.2 1.5 3.2 21.2 3.2 1.5 3.2"/>
<path d="M646 817.3L700.77 679" stroke="#000" stroke-dasharray="12.75 8.5"/>
</g>
<path d="M693 620.1H749M693 616.3v7.6M749 616.3v7.6M742 595.5H758M742 591.7v7.6M758 591.7v7.6M742.4 607.7H760.3M742.4 603.9v7.6M760.3 603.9v7.6M761.9 583.6H773.2M761.9 579.8v7.6M773.2 579.8v7.6M778.2 572H786.4M778.2 568.2v7.6M786.4 568.2v7.6M840.5 549H848.8M840.5 545.2v7.6M848.8 545.2v7.6" stroke="#000" stroke-width="1.7" fill="none"/>
<g fill="#800080" stroke="#200020" stroke-width="0.6">
<circle cx="712.9" cy="620.1" r="4.3"/>
<circle cx="749" cy="595.5" r="4.3"/>
<circle cx="749.8" cy="607.7" r="4.3"/>
<circle cx="767.3" cy="583.6" r="4.3"/>
<circle cx="782.1" cy="572" r="4.3"/>
<circle cx="812.4" cy="560.3" r="4.3"/>
<circle cx="842.7" cy="549" r="4.3"/>
<circle cx="846.5" cy="702.3" r="4.3"/>
</g>
<g fill="#00ffff" stroke="#003030" stroke-width="0.7">
<path d="M670.6 631.5L676.02 635.44L673.95 641.81L667.25 641.81L665.18 635.44Z"/>
<path d="M846.5 713L851.92 716.94L849.85 723.31L843.15 723.31L841.08 716.94Z"/>
</g>
<text x="567.75" y="844.2" font-size="21.6" text-anchor="middle" fill="#000" stroke="#000" stroke-width="0.5" font-weight="normal" textLength="11.1" lengthAdjust="spacingAndGlyphs" >8</text>
<text x="657.7" y="844.2" font-size="21.6" text-anchor="middle" fill="#000" stroke="#000" stroke-width="0.5" font-weight="normal" textLength="24.4" lengthAdjust="spacingAndGlyphs" >10</text>
<text x="747.7" y="844.2" font-size="21.6" text-anchor="middle" fill="#000" stroke="#000" stroke-width="0.5" font-weight="normal" textLength="24.4" lengthAdjust="spacingAndGlyphs" >12</text>
<text x="835.4" y="844.2" font-size="21.6" text-anchor="middle" fill="#000" stroke="#000" stroke-width="0.5" font-weight="normal" textLength="24.4" lengthAdjust="spacingAndGlyphs" >14</text>
<text x="511" y="783.66" font-size="21.6" text-anchor="end" fill="#000" stroke="#000" stroke-width="0.5" font-weight="normal" textLength="11.1" lengthAdjust="spacingAndGlyphs" >6</text>
<text x="511" y="701.27" font-size="21.6" text-anchor="end" fill="#000" stroke="#000" stroke-width="0.5" font-weight="normal" textLength="11.1" lengthAdjust="spacingAndGlyphs" >8</text>
<text x="511" y="618.89" font-size="21.6" text-anchor="end" fill="#000" stroke="#000" stroke-width="0.5" font-weight="normal" textLength="24.4" lengthAdjust="spacingAndGlyphs" >10</text>
<text x="511" y="536.5" font-size="21.6" text-anchor="end" fill="#000" stroke="#000" stroke-width="0.5" font-weight="normal" textLength="24.4" lengthAdjust="spacingAndGlyphs" >12</text>
<text x="516.9" y="872.7" font-size="21.5" text-anchor="start" fill="#000" stroke="#000" stroke-width="0.42" font-weight="normal" textLength="32.5" lengthAdjust="spacingAndGlyphs" letter-spacing="1.2">log</text>
<text x="561.5" y="872.7" font-size="25.3" text-anchor="start" fill="#000" stroke="#000" stroke-width="0.8" font-weight="normal" textLength="6.3" lengthAdjust="spacingAndGlyphs" >(</text>
<text x="570.9" y="872.7" font-size="21.5" text-anchor="start" fill="#000" stroke="#000" stroke-width="0.42" font-weight="normal" textLength="48" lengthAdjust="spacingAndGlyphs" letter-spacing="1.2">Halo</text>
<text x="630.9" y="872.7" font-size="21.5" text-anchor="start" fill="#000" stroke="#000" stroke-width="0.42" font-weight="normal" textLength="24.3" lengthAdjust="spacingAndGlyphs" letter-spacing="1.2">or</text>
<text x="665.3" y="872.7" font-size="21.5" text-anchor="start" fill="#000" stroke="#000" stroke-width="0.42" font-weight="normal" textLength="87.1" lengthAdjust="spacingAndGlyphs" letter-spacing="1.2">subhalo</text>
<text x="764.9" y="872.7" font-size="21.5" text-anchor="start" fill="#000" stroke="#000" stroke-width="0.42" font-weight="normal" textLength="56.2" lengthAdjust="spacingAndGlyphs" letter-spacing="1.2">mass</text>
<text x="823.6" y="872.7" font-size="25.3" text-anchor="start" fill="#000" stroke="#000" stroke-width="0.8" font-weight="normal" textLength="6.3" lengthAdjust="spacingAndGlyphs" >)</text>
<text x="843.1" y="872.7" font-size="26.5" text-anchor="start" fill="#000" stroke="#000" stroke-width="0.8" font-weight="normal" textLength="6.2" lengthAdjust="spacingAndGlyphs" >[</text>
<text x="851.4" y="872.7" font-size="21.5" text-anchor="start" fill="#000" stroke="#000" stroke-width="0.42" font-weight="normal" textLength="16.4" lengthAdjust="spacingAndGlyphs" >M</text>
<circle cx="872.4" cy="874.6" r="3.9" fill="none" stroke="#000" stroke-width="1.25"/><circle cx="872.4" cy="874.6" r="1.15" fill="#000"/>
<text x="879.6" y="872.7" font-size="26.5" text-anchor="start" fill="#000" stroke="#000" stroke-width="0.8" font-weight="normal" textLength="6.2" lengthAdjust="spacingAndGlyphs" >]</text>
<g transform="translate(467.1 803.5) rotate(-90)">
<text x="0" y="0" font-size="21.5" text-anchor="start" fill="#000" stroke="#000" stroke-width="0.42" font-weight="normal" textLength="31.9" lengthAdjust="spacingAndGlyphs" letter-spacing="1.2">log</text>
<text x="44.3" y="0" font-size="25.3" text-anchor="start" fill="#000" stroke="#000" stroke-width="0.8" font-weight="normal" textLength="6.3" lengthAdjust="spacingAndGlyphs" >(</text>
<text x="54" y="0" font-size="21.5" text-anchor="start" fill="#000" stroke="#000" stroke-width="0.42" font-weight="normal" textLength="75" lengthAdjust="spacingAndGlyphs" letter-spacing="1.2">Stellar</text>
<text x="139.3" y="0" font-size="21.5" text-anchor="start" fill="#000" stroke="#000" stroke-width="0.42" font-weight="normal" textLength="56.2" lengthAdjust="spacingAndGlyphs" letter-spacing="1.2">mass</text>
<text x="197.6" y="0" font-size="25.3" text-anchor="start" fill="#000" stroke="#000" stroke-width="0.8" font-weight="normal" textLength="6.3" lengthAdjust="spacingAndGlyphs" >)</text>
<text x="216.9" y="0" font-size="26.5" text-anchor="start" fill="#000" stroke="#000" stroke-width="0.8" font-weight="normal" textLength="6.2" lengthAdjust="spacingAndGlyphs" >[</text>
<text x="225.4" y="0" font-size="21.5" text-anchor="start" fill="#000" stroke="#000" stroke-width="0.42" font-weight="normal" textLength="15" lengthAdjust="spacingAndGlyphs" >M</text>
<circle cx="246.3" cy="1.3" r="3.9" fill="none" stroke="#000" stroke-width="1.25"/><circle cx="246.3" cy="1.3" r="1.15" fill="#000"/>
<text x="253.3" y="0" font-size="26.5" text-anchor="start" fill="#000" stroke="#000" stroke-width="0.8" font-weight="normal" textLength="6.2" lengthAdjust="spacingAndGlyphs" >]</text>
</g>
<text x="746.2" y="677.9" font-size="12.4" text-anchor="start" fill="#000" stroke="#000" stroke-width="0.42" font-weight="bold" textLength="54.9" lengthAdjust="spacingAndGlyphs" >Centrals:</text>
<text x="768.9" y="689.9" font-size="12.4" text-anchor="start" fill="#000" stroke="#000" stroke-width="0.42" font-weight="bold" textLength="43.1" lengthAdjust="spacingAndGlyphs" >More10</text>
<text x="768.9" y="702.3" font-size="12.4" text-anchor="start" fill="#000" stroke="#000" stroke-width="0.42" font-weight="bold" textLength="22.9" lengthAdjust="spacingAndGlyphs" >M06</text>
<text x="768.9" y="719.4" font-size="12.4" text-anchor="start" fill="#000" stroke="#000" stroke-width="0.6" font-weight="bold" textLength="22.1" lengthAdjust="spacingAndGlyphs" >LMC</text>
<text x="746.2" y="743.7" font-size="12.4" text-anchor="start" fill="#000" stroke="#000" stroke-width="0.42" font-weight="bold" textLength="67.4" lengthAdjust="spacingAndGlyphs" >MW dwarfs:</text>
<text x="768.9" y="756" font-size="12.4" text-anchor="start" fill="#000" stroke="#000" stroke-width="0.42" font-weight="bold" textLength="61" lengthAdjust="spacingAndGlyphs" >Strigari10</text>
<text x="768.9" y="768.1" font-size="12.4" text-anchor="start" fill="#000" stroke="#000" stroke-width="0.42" font-weight="bold" textLength="61" lengthAdjust="spacingAndGlyphs" >Strigari07</text>
<text x="746.2" y="781" font-size="12.4" text-anchor="start" fill="#999" stroke="#999" stroke-width="0.42" font-weight="bold" textLength="44.8" lengthAdjust="spacingAndGlyphs" ><tspan font-style="italic">α</tspan>=−1.6</text>
<path d="M841.9 680.2V688M843.85 680.2V688M845.8 680.2V688M847.75 680.2V688M849.7 680.2V688M851.65 680.2V688" stroke="#8c8c8c" stroke-width="1.3" fill="none"/>
<path d="M813.8 780.5h1.3M820.2 780.5H832.2M836.3 780.5h1.3M843.4 780.5H855" stroke="#8c8c8c" stroke-width="1.5" fill="none"/>
</g>
</svg>
</body></html>
